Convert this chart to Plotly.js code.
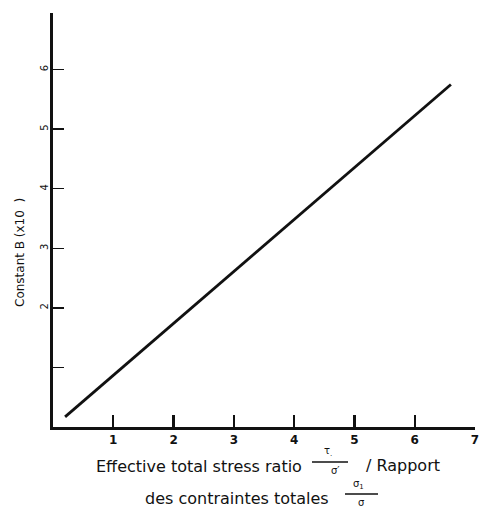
<!DOCTYPE html>
<html>
<head>
<meta charset="utf-8">
<script src="https://cdn.plot.ly/plotly-3.0.1.min.js"></script>
<style>
  html, body { margin: 0; padding: 0; background: #fff; }
  #chart { width: 479px; height: 509px; }
</style>
</head>
<body>
<div id="chart"></div>
<script>
// Constant B against the effective total stress ratio (straight-line relation)
const stressRatio = [0.2, 6.6];
const constantB = [0.17, 5.75];

const xTickVals = [1, 2, 3, 4, 5, 6, 7];
const xTickText = ['1', '2', '3', '4', '5', '6', '7'];
const yTickVals = [1, 2, 3, 4, 5, 6];
const yTickText = ['', '2', '3', '4', '5', '6'];

const ink = '#111';
const font = 'DejaVu Sans, Liberation Sans, sans-serif';

const trace = {
  x: stressRatio,
  y: constantB,
  mode: 'lines',
  line: { color: ink, width: 2.8 },
  hoverinfo: 'skip'
};

// paper coordinates: plot spans x 53..475 px, y 13..427 px
const px = v => (v - 53) / 422;
const py = v => (427 - v) / 414;

// axis title pieces: text plus small stacked fractions
const ann = (x, y, text, size, extra) => Object.assign({
  xref: 'paper', yref: 'paper', x: px(x), y: py(y), text: text, showarrow: false,
  font: { family: font, size: size, color: ink }, xanchor: 'left', yanchor: 'middle'
}, extra || {});

const bar = (x0, x1, y) => ({
  type: 'line', xref: 'paper', yref: 'paper',
  x0: px(x0), x1: px(x1), y0: py(y), y1: py(y),
  line: { color: ink, width: 1.6 }
});

const layout = {
  width: 479, height: 509,
  margin: { l: 53, r: 4, t: 13, b: 82 },
  paper_bgcolor: '#fff', plot_bgcolor: '#fff',
  showlegend: false,
  xaxis: {
    range: [0, 7],
    showgrid: false, zeroline: false,
    showline: true, linecolor: ink, linewidth: 2.6,
    ticks: 'inside', ticklen: 12, tickwidth: 2.2, tickcolor: ink,
    tickvals: xTickVals, ticktext: xTickText,
    tickfont: { family: font, size: 12, color: ink, weight: 'bold' },
    ticklabelstandoff: 0,
    ticklabeloverflow: 'allow'
  },
  yaxis: {
    range: [0, 6.95],
    showgrid: false, zeroline: false,
    showline: true, linecolor: ink, linewidth: 2.6,
    ticks: 'inside', ticklen: 11, tickwidth: 1.4, tickcolor: ink,
    tickvals: yTickVals, ticktext: yTickText,
    tickangle: -90,
    tickfont: { family: font, size: 10, color: ink },
    ticklabelstandoff: -2
  },
  shapes: [
    bar(312, 348, 462),
    bar(345, 378, 494)
  ],
  annotations: [
    ann(20, 253, 'Constant B (x10  )', 12, { xanchor: 'center', textangle: -90 }),
    ann(94, 466, 'Effective total stress ratio', 16),
    ann(328, 451, 'τ<sub>.</sub>', 10, { xanchor: 'center' }),
    ann(335, 470, 'σ′', 10, { xanchor: 'center' }),
    ann(364, 465, '/ Rapport', 16),
    ann(143, 498, 'des contraintes totales', 16),
    ann(358, 484, 'σ<sub>1</sub>', 10, { xanchor: 'center' }),
    ann(361, 503, 'σ', 10, { xanchor: 'center' })
  ]
};

Plotly.newPlot('chart', [trace], layout, { displayModeBar: false, staticPlot: true });
</script>
</body>
</html>
